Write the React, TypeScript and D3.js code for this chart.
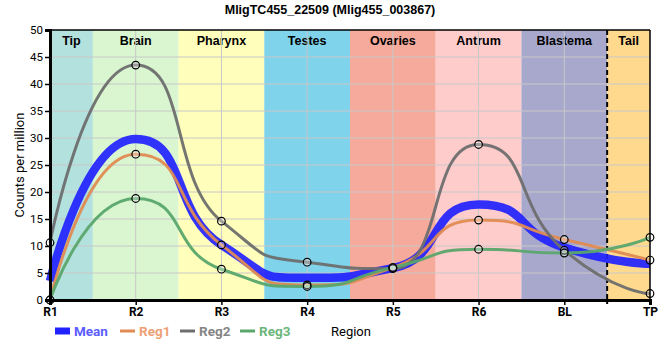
import * as d3 from "d3";
import { useEffect, useRef } from "react";

const positions = ["R1", "R2", "R3", "R4", "R5", "R6", "BL", "TP"];
const regions = ["Tip", "Brain", "Pharynx", "Testes", "Ovaries", "Antrum", "Blastema", "Tail"];
const regionColors = ["#b3e1dd", "#d9f6d1", "#ffffbb", "#7fd3ea", "#f5aa9c", "#ffcccc", "#a8a8cc", "#ffda8e"];

const reg1 = [0, 27.0, 10.2, 2.8, 6.0, 14.8, 11.2, 7.4];
const reg2 = [10.6, 43.5, 14.6, 7.0, 5.8, 28.8, 9.2, 1.2];
const reg3 = [0, 18.8, 5.7, 2.5, 6.0, 9.4, 8.7, 11.6];
const mean = [3.5, 29.8, 10.2, 4.1, 5.9, 17.7, 9.7, 6.7];

const yTicks = [0, 5, 10, 15, 20, 25, 30, 35, 40, 45, 50];

const series = [
  { name: "Mean", values: mean, color: "#2222ff", text: "#5c5cff", width: 8.5, markers: false },
  { name: "Reg1", values: reg1, color: "#e08b52", text: "#eda275", width: 3, markers: true },
  { name: "Reg2", values: reg2, color: "#6e6e6e", text: "#858585", width: 3, markers: true },
  { name: "Reg3", values: reg3, color: "#5aa66b", text: "#6cb67c", width: 3, markers: true },
];

// smooth bezier through the points, control points kept from making false extrema
function smoothCurve(alpha: number) {
  return (context: any) => {
    let pts: [number, number][] = [];
    return {
      areaStart() {},
      areaEnd() {},
      lineStart() {
        pts = [];
      },
      point(x: number, y: number) {
        pts.push([x, y]);
      },
      lineEnd() {
        if (!pts.length) return;
        context.moveTo(pts[0][0], pts[0][1]);
        let lastX = pts[0][0];
        let lastY = pts[0][1];
        for (let i = 1; i < pts.length; i++) {
          const p0 = pts[i - 1];
          const p1 = pts[i];
          const p2 = pts[i + 1];
          let lx = p1[0];
          let ly = p1[1];
          let rx = p1[0];
          let ry = p1[1];
          if (p2) {
            lx = (1 - alpha) * p1[0] + alpha * p0[0];
            ly = (1 - alpha) * p1[1] + alpha * p0[1];
            rx = (1 - alpha) * p1[0] + alpha * p2[0];
            ry = (1 - alpha) * p1[1] + alpha * p2[1];
            const dy = p1[1] - ry - ((p1[0] - rx) * (ly - ry)) / (lx - rx);
            ly += dy;
            ry += dy;
            if (ly > p0[1] && ly > p1[1]) {
              ly = Math.max(p0[1], p1[1]);
              ry = 2 * p1[1] - ly;
            } else if (ly < p0[1] && ly < p1[1]) {
              ly = Math.min(p0[1], p1[1]);
              ry = 2 * p1[1] - ly;
            }
            if (ry > p1[1] && ry > p2[1]) {
              ry = Math.max(p1[1], p2[1]);
              ly = 2 * p1[1] - ry;
            } else if (ry < p1[1] && ry < p2[1]) {
              ry = Math.min(p1[1], p2[1]);
              ly = 2 * p1[1] - ry;
            }
          }
          context.bezierCurveTo(lastX, lastY, lx, ly, p1[0], p1[1]);
          lastX = rx;
          lastY = ry;
        }
      },
    };
  };
}

export default function App(): JSX.Element {
  const svgRef = useRef<SVGSVGElement>(null);

  useEffect(() => {
    if (!svgRef.current) return;
    const width = 660;
    const height = 360;
    const margin = { top: 30, right: 10, bottom: 60, left: 50 };

    const svg = d3.select(svgRef.current);
    svg.selectAll("*").remove();
    svg.attr("width", width).attr("height", height);

    const x = d3
      .scalePoint<string>()
      .domain(positions)
      .range([margin.left, width - margin.right]);
    const y = d3
      .scaleLinear()
      .domain([0, 50])
      .range([height - margin.bottom, margin.top]);
    const step = x.step();

    // region bands
    regions.forEach((r, i) => {
      const x0 = Math.max(margin.left, x(positions[i])! - step / 2);
      const x1 = Math.min(width - margin.right, x(positions[i])! + step / 2);
      svg
        .append("rect")
        .attr("x", x0)
        .attr("y", y(50))
        .attr("width", x1 - x0)
        .attr("height", y(0) - y(50))
        .attr("fill", regionColors[i]);
      svg
        .append("text")
        .attr("x", (x0 + x1) / 2)
        .attr("y", y(50) + 15)
        .attr("text-anchor", "middle")
        .style("font-family", "Liberation Sans, Arial, sans-serif")
        .style("font-weight", "bold")
        .style("font-size", "12.5px")
        .text(r);
    });

    // grid
    svg
      .append("g")
      .selectAll("line")
      .data(yTicks.slice(1, -1))
      .join("line")
      .attr("x1", margin.left)
      .attr("x2", width - margin.right)
      .attr("y1", (d) => y(d))
      .attr("y2", (d) => y(d))
      .attr("stroke", "#c8c8c8")
      .attr("stroke-width", 1);
    svg
      .append("g")
      .selectAll("line")
      .data(positions.slice(1, -1))
      .join("line")
      .attr("x1", (d) => x(d)!)
      .attr("x2", (d) => x(d)!)
      .attr("y1", y(50))
      .attr("y2", y(0))
      .attr("stroke", "#c8c8c8")
      .attr("stroke-width", 1);

    // dashed separator between Blastema and Tail
    const sepX = x("BL")! + step / 2;
    svg
      .append("line")
      .attr("x1", sepX)
      .attr("x2", sepX)
      .attr("y1", y(50))
      .attr("y2", y(0) + 4)
      .attr("stroke", "#000")
      .attr("stroke-width", 2)
      .attr("stroke-dasharray", "5,3");

    const line = d3
      .line<number>()
      .x((_, i) => x(positions[i])!)
      .y((d) => y(d))
      .curve(smoothCurve(0.6) as any);

    for (const s of series) {
      svg
        .append("path")
        .datum(s.values)
        .attr("d", line)
        .attr("fill", "none")
        .attr("stroke", s.color)
        .attr("stroke-width", s.width)
        .attr("stroke-opacity", s.markers ? 0.95 : 0.92);
    }
    for (const s of series.filter((d) => d.markers)) {
      svg
        .append("g")
        .selectAll("circle")
        .data(s.values)
        .join("circle")
        .attr("cx", (_, i) => x(positions[i])!)
        .attr("cy", (d) => y(d))
        .attr("r", 3.8)
        .attr("fill", "#fff")
        .attr("fill-opacity", 0.3)
        .attr("stroke", "#000")
        .attr("stroke-width", 1.2);
    }

    // frame
    svg
      .append("line")
      .attr("x1", margin.left)
      .attr("x2", width - margin.right)
      .attr("y1", y(50))
      .attr("y2", y(50))
      .attr("stroke", "#000")
      .attr("stroke-width", 1.5);
    svg
      .append("line")
      .attr("x1", width - margin.right)
      .attr("x2", width - margin.right)
      .attr("y1", y(50))
      .attr("y2", y(0))
      .attr("stroke", "#000")
      .attr("stroke-width", 1.5);

    const yAxis = svg
      .append("g")
      .attr("transform", `translate(${margin.left},0)`)
      .call(d3.axisLeft(y).tickValues(yTicks).tickSize(5).tickPadding(2));
    yAxis.select(".domain").attr("stroke-width", 3);
    yAxis.selectAll(".tick line").attr("stroke-width", 1.5);
    yAxis
      .selectAll("text")
      .style("font-family", "Roboto, sans-serif")
      .style("font-size", "11.5px")
      .attr("fill", "#000");

    const xAxis = svg
      .append("g")
      .attr("transform", `translate(0,${y(0)})`)
      .call(d3.axisBottom(x).tickSize(5).tickPadding(2));
    xAxis.select(".domain").attr("stroke-width", 3);
    xAxis.selectAll(".tick line").attr("stroke-width", 1.5);
    xAxis
      .selectAll("text")
      .style("font-family", "Roboto, sans-serif")
      .style("font-weight", "bold")
      .style("font-size", "12px")
      .attr("fill", "#000");

    // titles
    svg
      .append("text")
      .attr("x", 330)
      .attr("y", 14)
      .attr("text-anchor", "middle")
      .style("font-family", "Liberation Sans, Arial, sans-serif")
      .style("font-weight", "bold")
      .style("font-size", "12.5px")
      .text("MligTC455_22509 (Mlig455_003867)");
    svg
      .append("text")
      .attr("transform", `translate(24,${(y(0) + y(50)) / 2}) rotate(-90)`)
      .attr("text-anchor", "middle")
      .style("font-family", "Roboto, sans-serif")
      .style("font-size", "13px")
      .text("Counts per million");
    svg
      .append("text")
      .attr("x", 331)
      .attr("y", 336)
      .style("font-family", "Roboto, sans-serif")
      .style("font-size", "13px")
      .text("Region");

    // legend
    const legendX = [55, 120, 180, 240];
    series.forEach((s, i) => {
      const lx = legendX[i];
      svg
        .append("line")
        .attr("x1", lx)
        .attr("x2", lx + 15)
        .attr("y1", 331)
        .attr("y2", 331)
        .attr("stroke", s.color)
        .attr("stroke-width", s.markers ? 3 : 7);
      svg
        .append("text")
        .attr("x", lx + 19)
        .attr("y", 336)
        .attr("fill", s.text)
        .style("font-family", "Roboto, sans-serif")
        .style("font-weight", "bold")
        .style("font-size", "13.5px")
        .text(s.name);
    });
  }, []);

  return <svg ref={svgRef} style={{ position: "absolute", left: 0, top: 0 }} />;
}
